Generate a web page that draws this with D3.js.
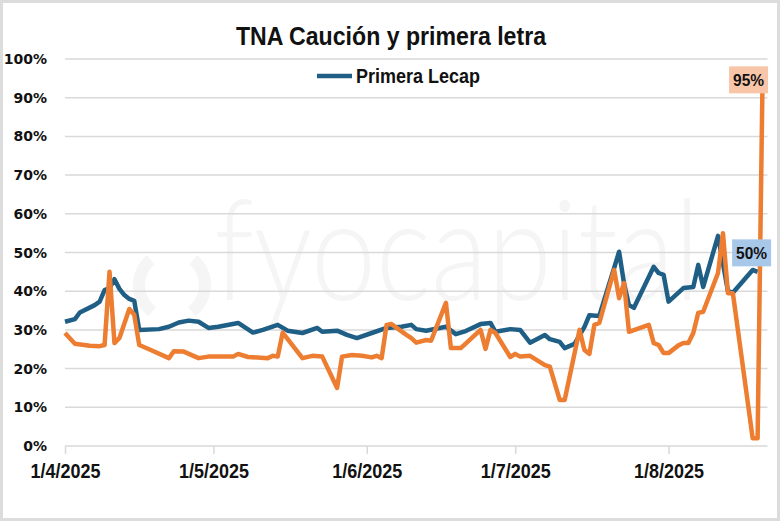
<!DOCTYPE html>
<html lang="es">
<head>
<meta charset="UTF-8">
<title>TNA Caución y primera letra</title>
<style>
  body { margin: 0; background: #fff; }
  svg text { font-family: "Liberation Sans", Arial, sans-serif; font-weight: bold; fill: #111; }
</style>
</head>
<body>
<svg id="chart" width="780" height="521"></svg>
<script src="https://d3js.org/d3.v7.min.js"></script>
<script>
// Primera Lecap (azul)
const lecapDates = ["2025-04-01","2025-04-03","2025-04-04","2025-04-07","2025-04-08","2025-04-09","2025-04-10","2025-04-11","2025-04-12","2025-04-13","2025-04-14","2025-04-15","2025-04-16","2025-04-20","2025-04-22","2025-04-24","2025-04-26","2025-04-28","2025-04-30","2025-05-02","2025-05-06","2025-05-09","2025-05-11","2025-05-14","2025-05-16","2025-05-19","2025-05-22","2025-05-23","2025-05-26","2025-05-28","2025-05-30","2025-06-02","2025-06-05","2025-06-08","2025-06-10","2025-06-11","2025-06-13","2025-06-17","2025-06-19","2025-06-21","2025-06-24","2025-06-26","2025-06-27","2025-06-30","2025-07-02","2025-07-04","2025-07-07","2025-07-08","2025-07-10","2025-07-11","2025-07-13","2025-07-15","2025-07-16","2025-07-18","2025-07-21","2025-07-22","2025-07-23","2025-07-24","2025-07-25","2025-07-29","2025-07-30","2025-07-31","2025-08-01","2025-08-04","2025-08-06","2025-08-07","2025-08-08","2025-08-11","2025-08-13","2025-08-14","2025-08-18","2025-08-19"];
const lecapValues = [32.1,32.8,34.5,36.4,37.3,40.3,40.8,43.1,40.6,39.0,38.0,37.5,30.0,30.2,30.8,31.9,32.4,32.1,30.5,30.8,31.8,29.3,30.0,31.3,29.8,29.2,30.5,29.5,29.8,28.7,27.9,29.2,30.5,30.8,31.3,30.2,29.8,30.8,28.9,29.7,31.5,31.8,29.5,30.2,30.0,26.7,28.7,27.6,26.9,25.3,26.4,30.8,33.8,33.6,46.0,50.2,42.0,36.4,35.7,46.3,44.7,44.2,37.3,40.8,41.1,46.8,41.1,54.3,40.0,39.6,45.5,45.0];

// TNA Caución (naranja)
const caucionDates = ["2025-04-01","2025-04-03","2025-04-06","2025-04-08","2025-04-09","2025-04-10","2025-04-11","2025-04-12","2025-04-14","2025-04-15","2025-04-16","2025-04-18","2025-04-22","2025-04-23","2025-04-25","2025-04-28","2025-04-30","2025-05-02","2025-05-05","2025-05-06","2025-05-08","2025-05-12","2025-05-13","2025-05-14","2025-05-15","2025-05-19","2025-05-21","2025-05-23","2025-05-26","2025-05-27","2025-05-29","2025-05-31","2025-06-02","2025-06-03","2025-06-04","2025-06-05","2025-06-06","2025-06-09","2025-06-10","2025-06-11","2025-06-13","2025-06-14","2025-06-17","2025-06-18","2025-06-20","2025-06-24","2025-06-25","2025-06-26","2025-06-27","2025-06-30","2025-07-01","2025-07-02","2025-07-04","2025-07-07","2025-07-08","2025-07-10","2025-07-11","2025-07-14","2025-07-15","2025-07-16","2025-07-17","2025-07-18","2025-07-21","2025-07-22","2025-07-23","2025-07-24","2025-07-28","2025-07-29","2025-07-30","2025-07-31","2025-08-01","2025-08-03","2025-08-04","2025-08-05","2025-08-06","2025-08-07","2025-08-08","2025-08-11","2025-08-12","2025-08-13","2025-08-14","2025-08-18","2025-08-19","2025-08-20"];
const caucionValues = [29.2,26.4,25.9,25.8,26.1,45.0,26.6,27.9,35.4,33.9,26.1,25.0,22.7,24.5,24.4,22.7,23.1,23.1,23.1,23.8,23.0,22.7,23.3,23.1,29.3,22.7,23.3,23.1,15.0,23.1,23.5,23.3,22.9,23.3,22.7,31.3,31.5,28.7,27.9,26.7,27.4,27.2,37.0,25.3,25.3,30.0,25.1,30.0,29.2,23.0,23.8,23.1,23.3,20.9,20.5,11.9,11.9,30.0,24.8,23.8,31.3,31.8,45.5,38.2,42.1,29.5,31.3,26.6,26.1,24.0,24.0,26.0,26.6,26.6,29.2,34.4,34.7,44.7,55.0,39.5,39.5,2.0,2.0,95.0];

const yTicks = [0, 10, 20, 30, 40, 50, 60, 70, 80, 90, 100];
const xTickDates = ["2025-04-01", "2025-05-01", "2025-06-01", "2025-07-01", "2025-08-01"];
const xTickLabels = ["1/4/2025", "1/5/2025", "1/6/2025", "1/7/2025", "1/8/2025"];
const lecapEndLabel = "50%";
const caucionEndLabel = "95%";

const parse = d3.timeParse("%Y-%m-%d");
const blue = "#1f5f86";
const orange = "#ed7d31";

const svg = d3.select("#chart");

const x = d3.scaleTime()
    .domain([parse("2025-04-01"), parse("2025-08-21")])
    .range([65, 767.5]);
const y = d3.scaleLinear()
    .domain([0, 100])
    .range([446, 59]);

// narrow text: squeeze glyphs to the width seen in the reference
function squeeze(sel, w) {
    sel.attr("textLength", w).attr("lengthAdjust", "spacingAndGlyphs");
}

// borde
svg.append("rect")
    .attr("x", 1.5).attr("y", 1.5)
    .attr("width", 777).attr("height", 518)
    .attr("fill", "#fff")
    .attr("stroke", "#dcdcdc")
    .attr("stroke-width", 3);

// marca de agua
const wm = svg.append("g").attr("fill", "#f5f5f5");
const arc = d3.arc().innerRadius(27).outerRadius(39);
wm.append("path").attr("transform", "translate(172,285)")
    .attr("d", arc({startAngle: -2.5, endAngle: -0.7}));
wm.append("path").attr("transform", "translate(172,285)")
    .attr("d", arc({startAngle: 0.7, endAngle: 2.5}));
wm.append("text")
    .attr("x", 214).attr("y", 300)
    .style("font-family", "Lato")
    .style("font-weight", "300")
    .style("font-size", "140px")
    .style("fill", "#f5f5f5")
    .call(squeeze, 486)
    .text("fyocapital");

// grilla
svg.append("g")
    .selectAll("line")
    .data(yTicks.filter(d => d > 0))
    .join("line")
    .attr("x1", 65).attr("x2", 767.5)
    .attr("y1", d => y(d)).attr("y2", d => y(d))
    .attr("stroke", "#d9d9d9")
    .attr("stroke-width", 1.5);

// eje Y
svg.append("g")
    .selectAll("text")
    .data(yTicks)
    .join("text")
    .attr("x", 47)
    .attr("y", d => y(d) + 5)
    .attr("text-anchor", "end")
    .style("font-family", "DejaVu Sans")
    .style("font-size", "14px")
    .text(d => d + "%");

// eje X
const xAxis = d3.axisBottom(x)
    .tickValues(xTickDates.map(parse))
    .tickFormat((d, i) => xTickLabels[i])
    .tickSize(8)
    .tickPadding(10);

const gx = svg.append("g")
    .attr("transform", `translate(0, ${y(0)})`)
    .call(xAxis);
gx.select(".domain").attr("stroke", "#d9d9d9").attr("stroke-width", 1.5)
    .attr("d", "M65,0H767.5");
gx.selectAll(".tick line").attr("stroke", "#d9d9d9").attr("stroke-width", 1.5);
gx.selectAll(".tick text")
    .attr("y", 32).attr("dy", null)
    .style("font-family", "Liberation Sans")
    .style("font-weight", "bold")
    .style("font-size", "21px")
    .attr("fill", "#111")
    .call(squeeze, 70);

// líneas
const line = d3.line()
    .x(d => x(d.date))
    .y(d => y(d.value));

const lecap = lecapDates.map((d, i) => ({date: parse(d), value: lecapValues[i]}));
const caucion = caucionDates.map((d, i) => ({date: parse(d), value: caucionValues[i]}));

svg.append("path")
    .datum(lecap)
    .attr("d", line)
    .attr("fill", "none")
    .attr("stroke", blue)
    .attr("stroke-width", 4.5)
    .attr("stroke-linejoin", "round");

svg.append("path")
    .datum(caucion)
    .attr("d", line)
    .attr("fill", "none")
    .attr("stroke", orange)
    .attr("stroke-width", 4.5)
    .attr("stroke-linejoin", "round");

// etiquetas finales
function endLabel(pt, text, fill, dx, dy) {
    const cx = x(pt.date) + dx;
    const cy = y(pt.value) + dy;
    svg.append("rect")
        .attr("x", cx - 19.5).attr("y", cy - 13.5)
        .attr("width", 39).attr("height", 27)
        .attr("fill", fill);
    svg.append("text")
        .attr("x", cx).attr("y", cy + 6)
        .attr("text-anchor", "middle")
        .style("font-size", "17px")
        .call(squeeze, 31)
        .text(text);
}
endLabel(caucion[caucion.length - 1], caucionEndLabel, "#f8c5a8", -14, 1.5);
endLabel(lecap[lecap.length - 1], lecapEndLabel, "#a8c8ea", -6, -19);

// título
svg.append("text")
    .attr("x", 236).attr("y", 45)
    .style("font-size", "26px")
    .call(squeeze, 310)
    .text("TNA Caución y  primera letra");

// leyenda
svg.append("line")
    .attr("x1", 317).attr("x2", 352)
    .attr("y1", 76).attr("y2", 76)
    .attr("stroke", blue)
    .attr("stroke-width", 4.5);
svg.append("text")
    .attr("x", 356).attr("y", 83)
    .style("font-size", "20px")
    .call(squeeze, 124)
    .text("Primera Lecap");
</script>
</body>
</html>
